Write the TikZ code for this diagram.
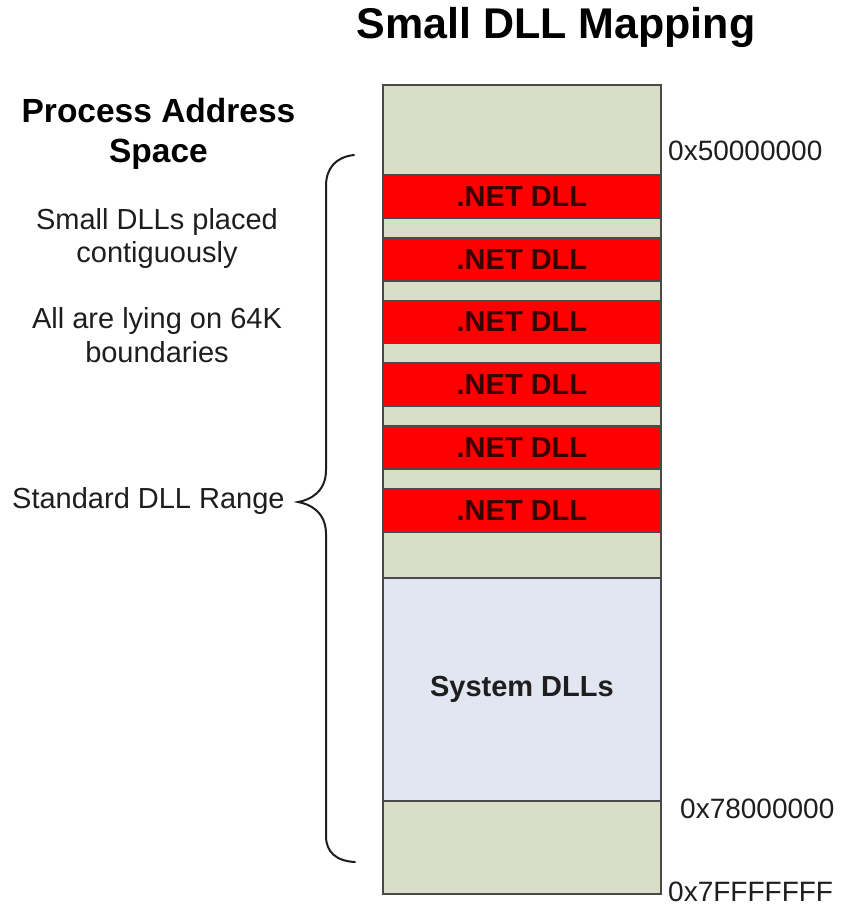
\documentclass[tikz,border=0pt]{standalone}
\usepackage{fontspec}
\setmainfont{Liberation Sans}
\definecolor{beige}{HTML}{D8DEC8}
\definecolor{sysblue}{HTML}{E1E6F0}
\definecolor{dllred}{HTML}{FF0000}
\definecolor{dlltext}{HTML}{3A0000}
\definecolor{framegray}{HTML}{4A4A4A}
\definecolor{ink}{HTML}{1E1E1E}
\begin{document}
\begin{tikzpicture}[x=1pt,y=-1pt,
  mem/.style={draw=framegray, line width=1.8pt, inner sep=0pt, minimum width=278pt, anchor=north west},
  freeblk/.style={mem, fill=beige},
  netdll/.style={mem, fill=dllred, minimum height=43pt, text=dlltext, font=\bfseries\fontsize{29}{33}\selectfont},
  sysblk/.style={mem, fill=sysblue, minimum height=223pt, text=ink, font=\bfseries\fontsize{29}{33}\selectfont},
  addr/.style={anchor=base west, inner sep=0pt, text=ink, font=\fontsize{28}{32}\selectfont},
  body/.style={anchor=base, inner sep=0pt, text=ink, font=\fontsize{29}{33}\selectfont},
  head/.style={anchor=base, inner sep=0pt, text=black, font=\bfseries\fontsize{33.5}{40}\selectfont},
  brace/.style={draw=ink, line width=2pt, line cap=round}
]
\useasboundingbox (0,0) rectangle (843,907);

% title
\node[anchor=base, inner sep=0pt, font=\bfseries\fontsize{43}{50}\selectfont] (title) at (556,39) {Small DLL Mapping};

% memory column
\node[freeblk, minimum height=809pt] (col) at (382,84) {};
\foreach \i in {0,...,5}
  \node[netdll] (dll\i) at (382,{174+62.8*\i}) {.NET DLL};
\node[sysblk] (sys) at (382,577) {System DLLs};

% addresses
\node[addr] (a1) at (668,160) {0x50000000};
\node[addr] (a2) at (680,818) {0x78000000};
\node[addr] (a3) at (668,901) {0x7FFFFFFF};

% left texts
\node[head] (h1) at (158.5,122) {Process Address};
\node[head] (h2) at (158.5,162) {Space};
\node[body] (s1) at (157,229) {Small DLLs placed};
\node[body] (s2) at (157,262) {contiguously};
\node[body] (s3) at (157,328) {All are lying on 64K};
\node[body] (s4) at (157,362) {boundaries};
\node[body, anchor=base west] (rng) at (12,508) {Standard DLL Range};

% brace
\coordinate (bt) at (354,155);
\coordinate (btip) at (298,502);
\coordinate (bb) at (355,862);
\draw[brace] (bt) .. controls (336,157) and (326,168) .. (326,186)
  -- (326,470) .. controls (326,492) and (310,500) .. (btip)
  .. controls (310,504) and (326,512) .. (326,534)
  -- (326,836) .. controls (326,852) and (336,861) .. (bb);
\end{tikzpicture}
\end{document}
